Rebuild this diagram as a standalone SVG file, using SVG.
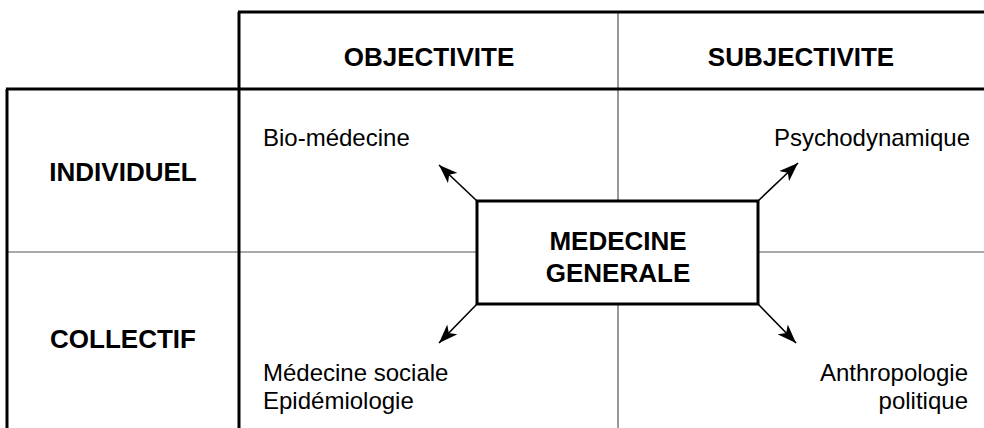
<svg xmlns="http://www.w3.org/2000/svg" width="984" height="428" viewBox="0 0 984 428">
<style>
.thick{stroke:#000;stroke-width:3;fill:none}
.thin{stroke:#555;stroke-width:1.2;fill:none}
.hdr{font-family:"Liberation Sans",Arial,sans-serif;font-weight:bold;font-size:26px;fill:#000;text-anchor:middle}
.lbl{font-family:"Liberation Sans",Arial,sans-serif;font-size:24px;fill:#000}
.arr{stroke:#000;stroke-width:1.6;fill:none;marker-end:url(#ah)}
</style>
<defs>
<marker id="ah" markerUnits="userSpaceOnUse" markerWidth="20" markerHeight="14" refX="19" refY="7" orient="auto">
<path d="M0,0 L19,7 L0,14 L5,7 z" fill="#000"/>
</marker>
</defs>
<rect width="984" height="428" fill="#fff"/>
<g id="grid">
<line class="thin" x1="618" y1="12" x2="618" y2="201"/>
<line class="thin" x1="618" y1="304" x2="618" y2="428"/>
<line class="thin" x1="7" y1="252" x2="477" y2="252"/>
<line class="thin" x1="758" y1="252" x2="984" y2="252"/>
<line class="thick" x1="238" y1="12" x2="984" y2="12"/>
<line class="thick" x1="239" y1="12" x2="239" y2="428"/>
<line class="thick" x1="6" y1="89" x2="984" y2="89"/>
<line class="thick" x1="7" y1="89" x2="7" y2="428"/>
</g>
<g id="headers">
<text class="hdr" x="429" y="66">OBJECTIVITE</text>
<text class="hdr" x="801" y="66">SUBJECTIVITE</text>
<text class="hdr" x="123" y="181">INDIVIDUEL</text>
<text class="hdr" x="123" y="348">COLLECTIF</text>
</g>
<g id="connectors">
<line class="arr" x1="477" y1="201" x2="439" y2="165"/>
<line class="arr" x1="758" y1="201" x2="798" y2="163"/>
<line class="arr" x1="477" y1="304" x2="439" y2="343"/>
<line class="arr" x1="758" y1="304" x2="796" y2="343"/>
</g>
<g id="center">
<rect x="477" y="201" width="281" height="103" fill="#fff" stroke="#000" stroke-width="3"/>
<text class="hdr" x="618" y="250">MEDECINE</text>
<text class="hdr" x="618" y="282">GENERALE</text>
</g>
<g id="bio"><text class="lbl" x="263" y="146">Bio-médecine</text></g>
<g id="psycho"><text class="lbl" x="970" y="146" text-anchor="end">Psychodynamique</text></g>
<g id="sociale">
<text class="lbl" x="263" y="381">Médecine sociale</text>
<text class="lbl" x="263" y="409">Epidémiologie</text>
</g>
<g id="anthro">
<text class="lbl" x="968" y="381" text-anchor="end">Anthropologie</text>
<text class="lbl" x="968" y="409" text-anchor="end">politique</text>
</g>
</svg>
